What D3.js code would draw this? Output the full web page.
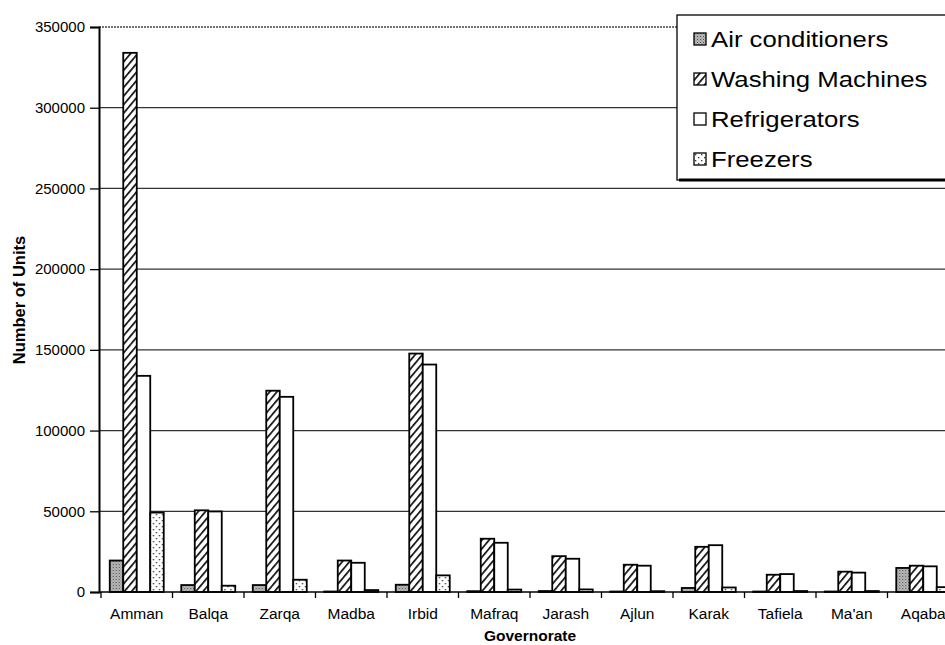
<!DOCTYPE html>
<html><head><meta charset="utf-8">
<script src="https://cdn.jsdelivr.net/npm/d3@7"></script>
<style>body{margin:0;background:#fff}svg{display:block}</style>
</head><body><svg id="c" width="945" height="645"></svg>
<script>
const categories=["Amman","Balqa","Zarqa","Madba","Irbid","Mafraq","Jarash","Ajlun","Karak","Tafiela","Ma'an","Aqaba"];
const seriesNames=["Air conditioners","Washing Machines","Refrigerators","Freezers"];
const airConditioners=[19500,4300,4300,300,4500,500,600,300,2500,300,300,14900];
const washingMachines=[334000,50600,124700,19500,147700,33000,22200,16900,28000,10700,12600,16300];
const refrigerators=[133900,49900,120900,18100,140900,30500,20600,16300,29000,11100,12000,15900];
const freezers=[49200,3900,7600,1200,10300,1500,1600,500,2800,600,600,3000];
const yTicks=[0,50000,100000,150000,200000,250000,300000,350000];
const xTitle="Governorate";
const yTitle="Number of Units";

const seriesValues=[airConditioners,washingMachines,refrigerators,freezers];
const patternIds=["pAC","pWM","pRF","pFZ"];

const svg=d3.select("#c");
const W=945,H=645;
const mLeft=99,mRight=959,mTop=27,mBottom=592;
const FONT="'Liberation Sans',Arial,sans-serif";

// patterns
const defs=svg.append("defs");
const pAC=defs.append("pattern").attr("id","pAC").attr("patternUnits","userSpaceOnUse").attr("width",3).attr("height",3);
pAC.append("rect").attr("width",3).attr("height",3).attr("fill","#bdbdbd");
pAC.append("rect").attr("x",0).attr("y",0).attr("width",1).attr("height",1).attr("fill","#444");
pAC.append("rect").attr("x",1.5).attr("y",1.5).attr("width",1).attr("height",1).attr("fill","#666");
const pWM=defs.append("pattern").attr("id","pWM").attr("patternUnits","userSpaceOnUse").attr("width",5.5).attr("height",5.5).attr("patternTransform","rotate(40)");
pWM.append("rect").attr("width",5.5).attr("height",5.5).attr("fill","#fff");
pWM.append("rect").attr("x",0).attr("y",0).attr("width",1.7).attr("height",5.5).attr("fill","#111");
const pRF=defs.append("pattern").attr("id","pRF").attr("patternUnits","userSpaceOnUse").attr("width",4).attr("height",4);
pRF.append("rect").attr("width",4).attr("height",4).attr("fill","#fff");
const pFZ=defs.append("pattern").attr("id","pFZ").attr("patternUnits","userSpaceOnUse").attr("width",6).attr("height",6);
pFZ.append("rect").attr("width",6).attr("height",6).attr("fill","#fff");
pFZ.append("rect").attr("x",1).attr("y",1).attr("width",1.3).attr("height",1.3).attr("fill","#333");
pFZ.append("rect").attr("x",4).attr("y",4).attr("width",1.3).attr("height",1.3).attr("fill","#333");

const y=d3.scaleLinear().domain([0,350000]).range([mBottom,mTop]);
const x0=d3.scaleBand().domain(categories).range([mLeft+2,mRight]).paddingInner(0.245).paddingOuter(0.1225);
const x1=d3.scaleBand().domain(seriesNames).range([0,x0.bandwidth()]);
const step=x0.step();

// gridlines
svg.append("g").selectAll("line").data(yTicks.filter(d=>d>0&&d<350000)).join("line")
  .attr("x1",mLeft).attr("x2",W).attr("y1",d=>y(d)).attr("y2",d=>y(d))
  .attr("stroke","#333").attr("stroke-width",1.3);
// top dotted border
svg.append("line").attr("x1",mLeft).attr("x2",W).attr("y1",y(350000)).attr("y2",y(350000))
  .attr("stroke","#444").attr("stroke-width",1.3).attr("stroke-dasharray","2,1");

// bars
const groups=svg.append("g").selectAll("g").data(categories).join("g")
  .attr("transform",d=>`translate(${x0(d)},0)`);
groups.selectAll("rect").data((c,i)=>seriesNames.map((s,j)=>({s,j,v:seriesValues[j][i]}))).join("rect")
  .attr("x",d=>x1(d.s)).attr("width",x1.bandwidth())
  .attr("y",d=>y(d.v)).attr("height",d=>mBottom-y(d.v))
  .attr("fill",d=>`url(#${patternIds[d.j]})`)
  .attr("stroke","#000").attr("stroke-width",1.8);

// y axis
const yAxis=d3.axisLeft(y).tickValues(yTicks).tickSize(9).tickPadding(5).tickFormat(d3.format("d"));
const ya=svg.append("g").attr("transform",`translate(${mLeft},0)`).call(yAxis);
ya.select(".domain").attr("stroke","#000").attr("stroke-width",2);
ya.selectAll(".tick line").attr("stroke","#000").attr("stroke-width",1.3);
ya.selectAll(".tick text").attr("font-family",FONT).attr("font-size",15).attr("fill","#000");

// x axis
svg.append("line").attr("x1",mLeft).attr("x2",W).attr("y1",mBottom).attr("y2",mBottom).attr("stroke","#000").attr("stroke-width",1.6);
svg.append("g").selectAll("line").data(categories).join("line")
  .attr("x1",d=>x0(d)-step*0.1225).attr("x2",d=>x0(d)-step*0.1225)
  .attr("y1",mBottom).attr("y2",mBottom+6).attr("stroke","#000").attr("stroke-width",1.3);
svg.append("g").selectAll("text").data(categories).join("text")
  .attr("x",d=>x0(d)+x0.bandwidth()/2).attr("y",mBottom+27)
  .attr("text-anchor","middle").attr("font-family",FONT).attr("font-size",15.5)
  .text(d=>d);

// titles
svg.append("text").attr("x",530).attr("y",641).attr("text-anchor","middle")
  .attr("font-family",FONT).attr("font-weight","bold").attr("font-size",15.5).text(xTitle);
svg.append("text").attr("transform","translate(25,300) rotate(-90)").attr("text-anchor","middle")
  .attr("font-family",FONT).attr("font-weight","bold").attr("font-size",16.5).text(yTitle);

// legend
const lg=svg.append("g");
lg.append("rect").attr("x",677).attr("y",15).attr("width",300).attr("height",165)
  .attr("fill","#fff").attr("stroke","#000").attr("stroke-width",1.3);
lg.append("line").attr("x1",679).attr("x2",W).attr("y1",180).attr("y2",180).attr("stroke","#000").attr("stroke-width",2.8);
const items=lg.selectAll("g.item").data(seriesNames).join("g").attr("class","item")
  .attr("transform",(d,i)=>`translate(694,${39+i*40})`);
items.append("rect").attr("x",0).attr("y",-6).attr("width",12).attr("height",12)
  .attr("fill",(d,i)=>`url(#${patternIds[i]})`).attr("stroke","#000").attr("stroke-width",1.3);
items.append("text").attr("transform","translate(17,8) scale(1.17,1)")
  .attr("font-family",FONT).attr("font-size",22).text(d=>d);
</script></body></html>
